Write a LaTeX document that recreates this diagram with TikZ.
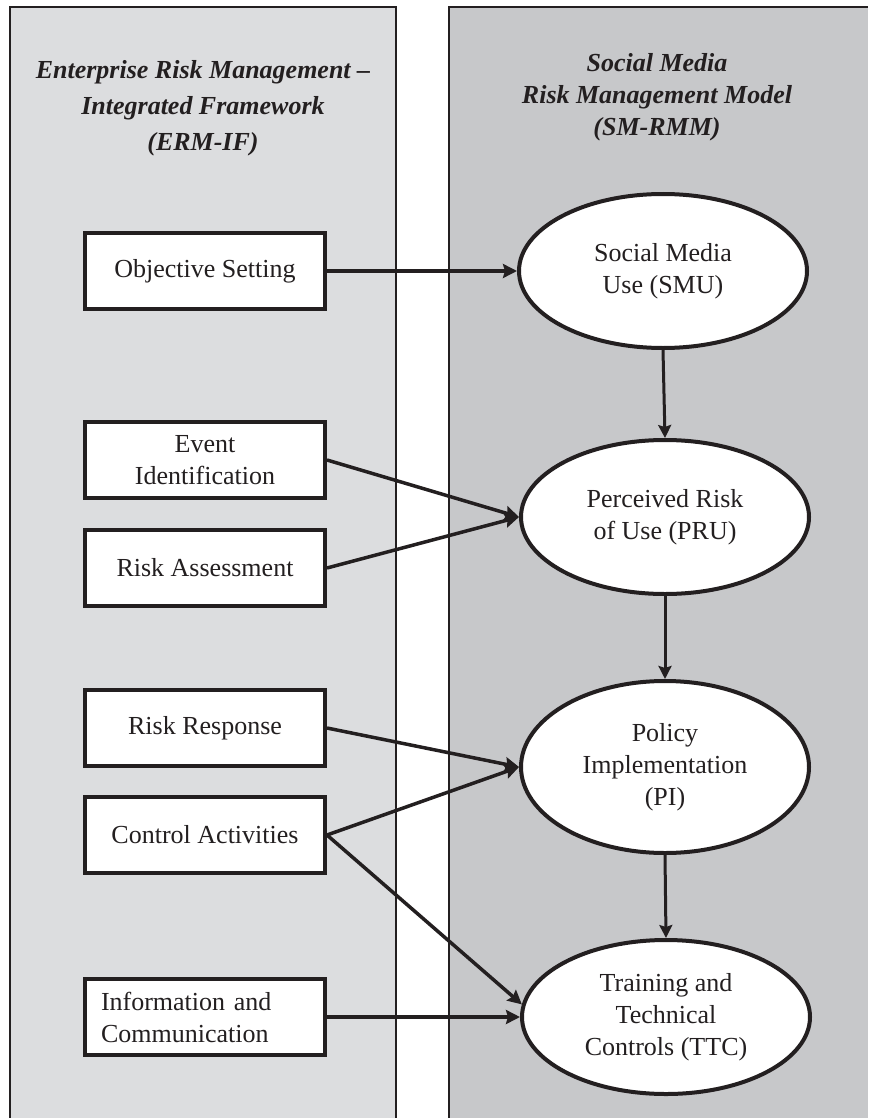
\documentclass[tikz,border=0pt]{standalone}
\usepackage{fontspec}
\setmainfont{Liberation Serif}
\usepackage{tikz}
\usetikzlibrary{arrows.meta,shapes.geometric}
\definecolor{ink}{HTML}{231F20}
\definecolor{ermfill}{HTML}{DCDDDF}
\definecolor{smfill}{HTML}{C7C8CA}

\begin{document}
\begin{tikzpicture}[x=1pt,y=-1pt,
  block/.style={draw=ink,line width=4pt,fill=white,text=ink,minimum width=240pt,
                minimum height=76pt,inner sep=0pt,align=center,
                font=\fontsize{26}{32}\selectfont},
  oval/.style={ellipse,draw=ink,line width=4pt,fill=white,text=ink,minimum width=288pt,
               minimum height=154pt,inner sep=0pt,align=center,
               font=\fontsize{26}{32}\selectfont},
  paneltitle/.style={align=center,text=ink,font=\bfseries\itshape\fontsize{26}{36}\selectfont},
  arr/.style={-{Stealth[length=14pt,width=14pt,inset=2pt]},line width=3.5pt,ink},
  darr/.style={-{Stealth[length=13pt,width=13pt,inset=2pt]},line width=3pt,ink}]
  \useasboundingbox (0,0) rectangle (868,1118);
  \fill[ermfill] (10,7) rectangle (396,1118);
  \draw[ink,line width=2pt] (10,1118) -- (10,7) -- (396,7) -- (396,1118);
  \fill[smfill] (449,7) rectangle (868,1118);
  \draw[ink,line width=2pt] (449,1118) -- (449,7) -- (868,7);
  \node[paneltitle] (ERM) at (203,108) {Enterprise Risk Management \textendash\\Integrated Framework\\(ERM-IF)};
  \node[paneltitle,font=\bfseries\itshape\fontsize{26}{32}\selectfont] (SMRMM) at (657,97)
    {Social Media\\Risk Management Model\\(SM-RMM)};
  \node[block] (OS) at (205,271)  {Objective Setting};
  \node[block] (EI) at (205,460)  {Event\\Identification};
  \node[block] (RA) at (205,568)  {Risk Assessment};
  \node[block] (RR) at (205,728)  {Risk Response};
  \node[block] (CA) at (205,835)  {Control Activities};
  \node[block,text width=208pt,align=left] (IC) at (205,1017) {Information and\\Communication};
  \node[oval] (SMU) at (663,271) {Social Media\\Use (SMU)};
  \node[oval] (PRU) at (665,517) {Perceived Risk\\of Use (PRU)};
  \node[oval,minimum height=172pt] (PI) at (665,767) {Policy\\Implementation\\(PI)};
  \node[oval] (TTC) at (666,1017) {Training and\\Technical\\Controls (TTC)};
  \draw[arr] (OS.east) -- (SMU.west);
  \draw[arr] (EI.east) -- (PRU.west); \draw[arr] (RA.east) -- (PRU.west);
  \draw[arr] (RR.east) -- (PI.west);  \draw[arr] (CA.east) -- (PI.west);
  \draw[arr] (CA.east) -- (TTC.175);  \draw[arr] (IC.east) -- (TTC.west);
  \draw[darr] (SMU.south) -- (PRU.north);
  \draw[darr] (PRU.south) -- (PI.north);
  \draw[darr] (PI.south) -- (TTC.north);
\end{tikzpicture}
\end{document}
